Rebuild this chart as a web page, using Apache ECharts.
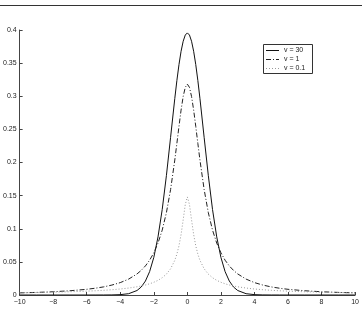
<!DOCTYPE html>
<html><head><meta charset="utf-8">
<script src="https://cdn.jsdelivr.net/npm/echarts@6/dist/echarts.min.js"></script>
<style>html,body{margin:0;padding:0;background:#fff}#c{width:362px;height:311px}</style>
</head><body><div id="c"></div>
<script>
var xs = [-10,-9,-8,-7,-6,-5.5,-5,-4.5,-4,-3.5,-3,-2.75,-2.5,-2.25,-2,-1.75,-1.5,-1.25,-1,-0.75,-0.625,-0.5,-0.375,-0.25,-0.125,0,
          0.125,0.25,0.375,0.5,0.625,0.75,1,1.25,1.5,1.75,2,2.25,2.5,2.75,3,3.5,4,4.5,5,5.5,6,7,8,9,10];
var yV30 = [0,0,0,0,0,0.00001,0.00003,0.00013,0.00053,0.00196,0.00678,0.0121,0.0211,0.0353,0.0568,0.0877,0.129,0.1801,0.238,0.2966,0.3237,0.3478,0.3679,0.383,0.3924,0.3956,
            0.3924,0.383,0.3679,0.3478,0.3237,0.2966,0.238,0.1801,0.129,0.0877,0.0568,0.0353,0.0211,0.0121,0.00678,0.00196,0.00053,0.00013,0.00003,0.00001,0,0,0,0,0];
var yV1 = [0.0032,0.0039,0.0049,0.0064,0.0086,0.0102,0.0122,0.015,0.0187,0.024,0.0318,0.0372,0.0439,0.0525,0.0637,0.0784,0.0979,0.1242,0.1592,0.2037,0.2289,0.2546,0.2791,0.2996,0.3134,0.3183,
           0.3134,0.2996,0.2791,0.2546,0.2289,0.2037,0.1592,0.1242,0.0979,0.0784,0.0637,0.0525,0.0439,0.0372,0.0318,0.024,0.0187,0.015,0.0122,0.0102,0.0086,0.0064,0.0049,0.0039,0.0032];
var yV01 = [0.0033,0.00372,0.00423,0.0049,0.0058,0.00638,0.00709,0.00795,0.00905,0.0105,0.0124,0.0136,0.0151,0.0169,0.0192,0.0221,0.0261,0.0315,0.0396,0.0523,0.0617,0.0743,0.0913,0.1133,0.1366,0.148,
            0.1366,0.1133,0.0913,0.0743,0.0617,0.0523,0.0396,0.0315,0.0261,0.0221,0.0192,0.0169,0.0151,0.0136,0.0124,0.0105,0.00905,0.00795,0.00709,0.00638,0.0058,0.0049,0.00423,0.00372,0.0033];
var legendNames = ['v = 30','v = 1','v = 0.1'];

function pairs(ys){ return xs.map(function(x,i){ return [x, ys[i]]; }); }
var chart = echarts.init(document.getElementById('c'), null, {renderer:'canvas'});
var font = 'Liberation Sans, Arial, sans-serif';
var lx1 = 266, lx2 = 279, ly = [50, 59, 68];
var styles = [
  {stroke:'#111', lineWidth:1},
  {stroke:'#222', lineWidth:1, lineDash:[5,2,1,2]},
  {stroke:'#999', lineWidth:1, lineDash:[1,2]}
];
var g = [
  {type:'line', shape:{x1:0,y1:5.5,x2:362,y2:5.5}, style:{stroke:'#333', lineWidth:1}},
  {type:'rect', shape:{x:263.5,y:44.5,width:49,height:29}, style:{fill:'#fff', stroke:'#333', lineWidth:1}, z:10}
];
for (var i=0;i<3;i++){
  g.push({type:'line', shape:{x1:lx1,y1:ly[i]+0.5,x2:lx2,y2:ly[i]+0.5}, style:styles[i], z:11});
  g.push({type:'text', x:284, y:ly[i], style:{text:legendNames[i], font:'7px '+font, fill:'#222', verticalAlign:'middle'}, z:11});
}
chart.setOption({
  animation:false,
  grid:{left:19, right:6, top:30, bottom:16},
  xAxis:{type:'value', min:-10, max:10, interval:2,
    axisLine:{onZero:false, lineStyle:{color:'#444'}}, splitLine:{show:false},
    axisTick:{inside:true, length:3, lineStyle:{color:'#444'}},
    axisLabel:{fontSize:7, fontFamily:font, color:'#222', margin:4,
      formatter:function(v){ return String(v).replace('-','\u2212'); }}},
  yAxis:{type:'value', min:0, max:0.4, interval:0.05,
    axisLine:{show:true, onZero:false, lineStyle:{color:'#444'}}, splitLine:{show:false},
    axisTick:{show:true, inside:true, length:3, lineStyle:{color:'#444'}},
    axisLabel:{fontSize:7, fontFamily:font, color:'#222', margin:3,
      formatter:function(v){ return String(+v.toFixed(2)); }}},
  graphic:g,
  series:[
    {type:'line', name:legendNames[0], data:pairs(yV30), showSymbol:false, smooth:false, lineStyle:{color:'#111', width:1}},
    {type:'line', name:legendNames[1], data:pairs(yV1), showSymbol:false, lineStyle:{color:'#222', width:1, type:[5,2,1,2]}},
    {type:'line', name:legendNames[2], data:pairs(yV01), showSymbol:false, lineStyle:{color:'#999', width:1, type:[1,2]}}
  ]
});
</script></body></html>
